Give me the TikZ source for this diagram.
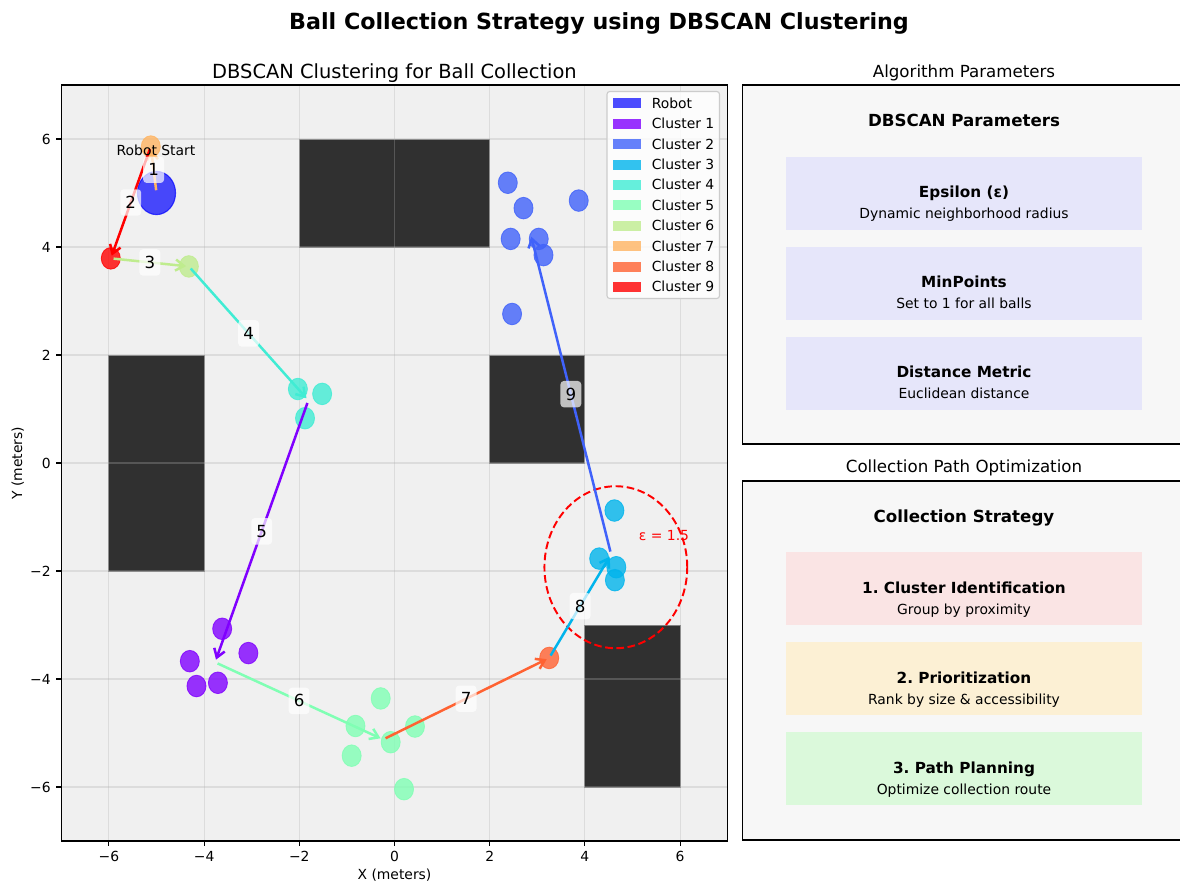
\documentclass[tikz,border=0pt]{standalone}
\usepackage{fontspec}
\setmainfont{DejaVu Sans}
\usetikzlibrary{arrows.meta}
\frenchspacing

% rainbow colours of the nine clusters
\definecolor{clA}{RGB}{128,0,255}
\definecolor{clB}{RGB}{64,98,250}
\definecolor{clC}{RGB}{0,180,236}
\definecolor{clD}{RGB}{64,236,212}
\definecolor{clE}{RGB}{128,255,180}
\definecolor{clF}{RGB}{191,236,142}
\definecolor{clG}{RGB}{255,180,98}
\definecolor{clH}{RGB}{255,98,50}
\definecolor{clI}{RGB}{255,0,0}
\definecolor{robotblue}{RGB}{0,0,255}
\definecolor{axbg}{RGB}{240,240,240}
\definecolor{panelbg}{RGB}{247,247,247}
\definecolor{gridgray}{RGB}{176,176,176}
\definecolor{legedge}{RGB}{204,204,204}
\definecolor{boxlav}{RGB}{230,230,250}
\definecolor{boxpink}{RGB}{250,228,228}
\definecolor{boxyellow}{RGB}{252,240,212}
\definecolor{boxgreen}{RGB}{219,249,219}

\newcommand\fsz[1]{\fontsize{#1}{#1}\selectfont}

\begin{document}
\begin{tikzpicture}[x=0.72pt, y=-0.72pt,
  ball/.style={fill=#1, draw=#1, fill opacity=0.8, draw opacity=0.8, line width=0.6pt},
  route/.style={draw=#1, line width=1.8pt, -{Straight Barb[length=6pt,width=8pt]},
                shorten <=2pt, shorten >=2pt},
  steplabel/.style={fill=white, fill opacity=0.7, text opacity=1, rounded corners=2.5pt,
                    inner sep=0pt, minimum width=15pt, minimum height=19pt, font=\fsz{12}},
  obstacle/.style={fill=black, fill opacity=0.8, draw=gray, line width=0.7pt},
  gridline/.style={draw=gridgray, draw opacity=0.3, line width=0.8pt},
  ticklabel/.style={font=\fsz{10}, inner sep=0pt},
  legtext/.style={font=\fsz{10}, anchor=base west, inner sep=0pt},
  panel/.style={fill=panelbg, draw=black, line width=0.8pt},
  boxhead/.style={font=\bfseries\fsz{11}, anchor=base, inner sep=0pt},
  boxsub/.style={font=\fsz{10}, anchor=base, inner sep=0pt},
  paneltitle/.style={font=\fsz{12}, anchor=base, inner sep=0pt},
]
\useasboundingbox (0,0) rectangle (1180,883);
\fill[white] (0,0) rectangle (1180,883);

% titles
\node[font=\bfseries\fsz{16}, anchor=base, inner sep=0pt] (suptitle) at (599,29)
  {Ball Collection Strategy using DBSCAN Clustering};
\node[font=\fsz{14}, anchor=base, inner sep=0pt] (axtitle) at (394.5,78)
  {DBSCAN Clustering for Ball Collection};

% ---------------- map in metres ----------------
\begin{scope}[shift={(394.5,463)}, x=34.272pt, y=38.88pt]
  \fill[axbg] (-7,-7) rectangle (7,7);

  % obstacles
  \draw[obstacle] (-2,4) rectangle (2,6);
  \draw[obstacle] (-6,-2) rectangle (-4,2);
  \draw[obstacle] (2,0) rectangle (4,2);
  \draw[obstacle] (4,-6) rectangle (6,-3);

  % grid
  \foreach \v in {-6,-4,...,6} {
    \draw[gridline] (\v,-7) -- (\v,7);
    \draw[gridline] (-7,\v) -- (7,\v);
  }

  % epsilon neighbourhood
  \draw[red, line width=1.4pt, dash pattern=on 5.5pt off 2.6pt] (4.65,-1.93) circle[radius=1.5];

  % robot
  \draw[fill=robotblue, fill opacity=0.7, draw=robotblue, draw opacity=0.7, line width=0.8pt]
    (-5,5) circle[radius=0.4];

  % balls by cluster
  \foreach \p in {(-3.62,-3.07),(-3.07,-3.52),(-4.30,-3.67),(-4.16,-4.13),(-3.71,-4.07)}
    \draw[ball=clA] \p circle[radius=0.2];
  \foreach \p in {(2.38,5.19),(2.71,4.72),(3.87,4.86),(2.44,4.15),(3.03,4.15),(3.13,3.85),(2.47,2.76)}
    \draw[ball=clB] \p circle[radius=0.2];
  \foreach \p in {(4.62,-0.88),(4.30,-1.77),(4.66,-1.93),(4.63,-2.17)}
    \draw[ball=clC] \p circle[radius=0.2];
  \foreach \p in {(-2.03,1.37),(-1.52,1.28),(-1.88,0.83)}
    \draw[ball=clD] \p circle[radius=0.2];
  \foreach \p in {(-0.29,-4.36),(-0.82,-4.87),(0.43,-4.88),(-0.08,-5.17),(-0.90,-5.42),(0.20,-6.04)}
    \draw[ball=clE] \p circle[radius=0.2];
  \draw[ball=clF] (-4.32,3.64) circle[radius=0.2];
  \draw[ball=clG] (-5.12,5.86) circle[radius=0.2];
  \draw[ball=clH] (3.25,-3.61) circle[radius=0.2];
  \draw[ball=clI] (-5.96,3.79) circle[radius=0.2];

  % cluster centroids and robot start
  \coordinate (R)  at (-5,5);
  \coordinate (G7) at (-5.12,5.86);
  \coordinate (G9) at (-5.96,3.79);
  \coordinate (G6) at (-4.32,3.64);
  \coordinate (G4) at (-1.81,1.16);
  \coordinate (G1) at (-3.77,-3.69);
  \coordinate (G5) at (-0.24,-5.12);
  \coordinate (G8) at (3.25,-3.61);
  \coordinate (G3) at (4.55,-1.69);
  \coordinate (G2) at (2.86,4.24);

  % collection route
  \draw[route=clG] (R)  -- (G7);
  \draw[route=clI] (G7) -- (G9);
  \draw[route=clF] (G9) -- (G6);
  \draw[route=clD] (G6) -- (G4);
  \draw[route=clA] (G4) -- (G1);
  \draw[route=clE] (G1) -- (G5);
  \draw[route=clH] (G5) -- (G8);
  \draw[route=clC] (G8) -- (G3);
  \draw[route=clB] (G3) -- (G2);

  % step numbers
  \path (R)  -- (G7) node[steplabel, midway] (s1) {1};
  \path (G7) -- (G9) node[steplabel, midway] (s2) {2};
  \path (G9) -- (G6) node[steplabel, midway] (s3) {3};
  \path (G6) -- (G4) node[steplabel, midway] (s4) {4};
  \path (G4) -- (G1) node[steplabel, midway] (s5) {5};
  \path (G1) -- (G5) node[steplabel, midway] (s6) {6};
  \path (G5) -- (G8) node[steplabel, midway] (s7) {7};
  \path (G8) -- (G3) node[steplabel, midway] (s8) {8};
  \path (G3) -- (G2) node[steplabel, midway] (s9) {9};

  % frame and ticks
  \draw[black, line width=0.8pt] (-7,-7) rectangle (7,7);
  \foreach \v in {-6,-4,...,6} {
    \draw[black, line width=0.8pt] (\v,-7) -- ++(0,-3.5pt);
    \draw[black, line width=0.8pt] (-7,\v) -- ++(-3.5pt,0);
  }
\end{scope}

% annotations on the map
\node[font=\fsz{10}, anchor=base, inner sep=0pt] (startlbl) at (156,155.5) {Robot Start};
\node[font=\fsz{10}, anchor=base, inner sep=0pt, text=red] (epslbl) at (664,540) {ε = 1.5};

% tick labels
\foreach \v/\t in {-6/−6,-4/−4,-2/−2,0/0,2/2,4/4,6/6} {
  \node[ticklabel, anchor=base] at ({394.5+47.6*\v},861) {\t};
  \node[ticklabel, anchor=base east] at (51,{463-54*\v+5}) {\t};
}
\node[font=\fsz{10}, anchor=base, inner sep=0pt] (xlab) at (394.5,879.5) {X (meters)};
\node[font=\fsz{10}, anchor=base, inner sep=0pt, rotate=90] (ylab) at (22,463) {Y (meters)};

% legend
\draw[fill=white, fill opacity=0.8, draw=legedge, line width=0.8pt, rounded corners=2pt]
  (607,91.5) rectangle (719.5,298.5);
\fill[robotblue, fill opacity=0.7] (612.5,98.3) rectangle (640.5,108.3);
\node[legtext] at (651.5,108.3) {Robot};
\foreach \c/\t [count=\k] in {clA/Cluster 1,clB/Cluster 2,clC/Cluster 3,clD/Cluster 4,
                              clE/Cluster 5,clF/Cluster 6,clG/Cluster 7,clH/Cluster 8,clI/Cluster 9} {
  \pgfmathsetmacro\yy{103.3+20.4*\k}
  \fill[\c, fill opacity=0.8] (612.5,\yy-5) rectangle (640.5,\yy+5);
  \node[legtext] at (651.5,\yy+5) {\t};
}

% ---------------- parameter panel ----------------
\node[paneltitle] (ptitleA) at (964,77) {Algorithm Parameters};
\draw[panel] (742.5,85) rectangle (1186,444);
\node[font=\bfseries\fsz{12}, anchor=base, inner sep=0pt] (headA) at (964,126) {DBSCAN Parameters};
\fill[boxlav] (786,157) rectangle (1142,230);
\node[boxhead] at (964,197.5) {Epsilon (ε)};
\node[boxsub]  at (964,218.5) {Dynamic neighborhood radius};
\fill[boxlav] (786,247) rectangle (1142,320);
\node[boxhead] at (964,287.5) {MinPoints};
\node[boxsub]  at (964,308.5) {Set to 1 for all balls};
\fill[boxlav] (786,337) rectangle (1142,410);
\node[boxhead] at (964,377.5) {Distance Metric};
\node[boxsub]  at (964,398.5) {Euclidean distance};

% ---------------- strategy panel ----------------
\node[paneltitle] (ptitleB) at (964,472.5) {Collection Path Optimization};
\draw[panel] (742.5,481) rectangle (1186,840);
\node[font=\bfseries\fsz{12}, anchor=base, inner sep=0pt] (headB) at (964,522) {Collection Strategy};
\fill[boxpink] (786,552) rectangle (1142,625);
\node[boxhead] at (964,593) {1. Cluster Identification};
\node[boxsub]  at (964,614) {Group by proximity};
\fill[boxyellow] (786,642) rectangle (1142,715);
\node[boxhead] at (964,683) {2. Prioritization};
\node[boxsub]  at (964,704) {Rank by size \& accessibility};
\fill[boxgreen] (786,732) rectangle (1142,805);
\node[boxhead] at (964,773) {3. Path Planning};
\node[boxsub]  at (964,794) {Optimize collection route};
\end{tikzpicture}
\end{document}
